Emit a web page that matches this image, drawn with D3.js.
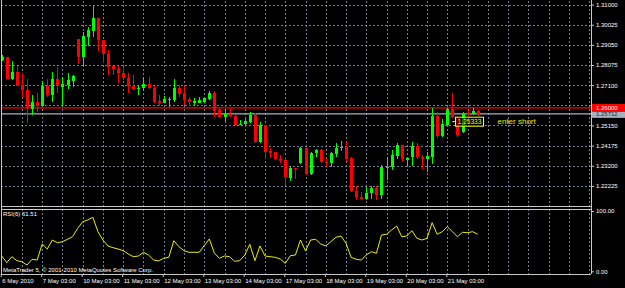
<!DOCTYPE html>
<html><head><meta charset="utf-8">
<script src="https://cdn.jsdelivr.net/npm/d3@7/dist/d3.min.js"></script>
<style>
html,body{margin:0;padding:0;background:#000;}
svg{display:block;}
text{font-family:"Liberation Sans",Arial,sans-serif;}
</style></head>
<body>
<svg id="c" width="625" height="288"></svg>
<script>
const dateLabels = ["6 May 2010","7 May 03:00","10 May 03:00","11 May 03:00","12 May 03:00","13 May 03:00","14 May 03:00","17 May 03:00","18 May 03:00","19 May 03:00","20 May 03:00","21 May 03:00"];
const dateIndex = [0,8,16,24,32,40,48,56,64,72,80,88];
const priceTicks = [1.31000,1.30025,1.29050,1.28075,1.27100,1.26125,1.25150,1.24175,1.23200,1.22225];
const rsiTicks = [100,0];

const open = [1.28319,1.28464,1.27399,1.27738,1.27109,1.26867,1.25947,1.26286,1.26093,1.27061,
1.26625,1.27399,1.27012,1.27109,1.27302,1.29335,1.28464,1.29432,1.29722,1.30351,
1.29287,1.28609,1.28028,1.27883,1.27690,1.27448,1.27061,1.26930,1.26964,1.27157,
1.26964,1.26335,1.26238,1.26383,1.26383,1.26964,1.26722,1.26431,1.26252,1.26252,
1.26286,1.26431,1.26722,1.25899,1.25560,1.25657,1.25609,1.25207,1.25221,1.25318,
1.25657,1.24350,1.25173,1.23915,1.23866,1.23527,1.23479,1.22607,1.23106,1.23334,
1.24060,1.22801,1.23818,1.23963,1.23382,1.23334,1.23769,1.24060,1.24108,1.23576,
1.21979,1.21688,1.21591,1.21882,1.22124,1.21785,1.23092,1.23140,1.23672,1.24205,
1.23479,1.23624,1.24157,1.23624,1.23527,1.23624,1.25609,1.24641,1.25173,1.25947,
1.25560,1.24834,1.25754,1.25691,1.25851];
const high = [1.28561,1.28480,1.28270,1.28028,1.27690,1.27399,1.26625,1.26722,1.27302,1.27399,
1.27738,1.27980,1.27496,1.27690,1.27593,1.29335,1.29674,1.29916,1.30932,1.30351,
1.29287,1.28803,1.28028,1.28028,1.27980,1.27690,1.27593,1.27109,1.27496,1.27496,
1.27061,1.26625,1.26577,1.26528,1.27399,1.27109,1.27061,1.26528,1.26480,1.26528,
1.26543,1.26819,1.26819,1.26044,1.25899,1.25996,1.25657,1.25415,1.25463,1.25802,
1.25754,1.25318,1.25173,1.24060,1.23866,1.23721,1.23624,1.23140,1.23106,1.24108,
1.24108,1.23866,1.24011,1.24011,1.23576,1.23866,1.24302,1.24398,1.24350,1.23624,
1.22221,1.21930,1.22172,1.22221,1.22221,1.23237,1.23624,1.23963,1.24302,1.24205,
1.23624,1.24350,1.24302,1.23721,1.23866,1.25996,1.25802,1.25463,1.25996,1.26722,
1.25560,1.25802,1.25899,1.25996,1.25899];
const low = [1.28270,1.27380,1.27351,1.27061,1.26480,1.25270,1.25657,1.25802,1.26093,1.26528,
1.26286,1.26722,1.26093,1.26915,1.27012,1.28125,1.28028,1.28996,1.29432,1.28754,
1.28174,1.27593,1.27593,1.27206,1.27351,1.26722,1.26867,1.26625,1.26819,1.26915,
1.26238,1.26093,1.26238,1.26044,1.26286,1.26528,1.26141,1.26093,1.26141,1.26238,
1.26252,1.26383,1.25560,1.25511,1.25366,1.25560,1.25173,1.25173,1.25173,1.25270,
1.24302,1.24302,1.23527,1.23576,1.23479,1.23334,1.22269,1.22462,1.22559,1.23285,
1.22753,1.22753,1.23624,1.23334,1.23140,1.23140,1.23624,1.23915,1.23430,1.21930,
1.21543,1.21543,1.21543,1.21591,1.21543,1.21591,1.22511,1.22995,1.23527,1.23382,
1.23188,1.23188,1.23527,1.23043,1.22898,1.23285,1.24544,1.24592,1.25173,1.25511,
1.24592,1.24786,1.25609,1.25657,1.25632];
const close = [1.28464,1.27399,1.27738,1.27061,1.26867,1.25996,1.26286,1.26093,1.27061,1.26625,
1.27399,1.27061,1.27157,1.27351,1.27545,1.28464,1.29480,1.29771,1.30351,1.29287,
1.28609,1.27980,1.27883,1.27690,1.27448,1.27061,1.26915,1.26964,1.27157,1.26964,
1.26286,1.26238,1.26431,1.26431,1.26964,1.26673,1.26383,1.26286,1.26349,1.26383,
1.26480,1.26722,1.25851,1.25560,1.25705,1.25609,1.25173,1.25236,1.25366,1.25657,
1.24350,1.25173,1.23866,1.23818,1.23527,1.23445,1.22656,1.23092,1.23043,1.24060,
1.22801,1.23818,1.23963,1.23382,1.23334,1.23818,1.24060,1.24108,1.23527,1.21979,
1.21688,1.21591,1.21882,1.22124,1.21785,1.23140,1.23140,1.23721,1.24205,1.23527,
1.23576,1.24157,1.23624,1.23527,1.23672,1.25609,1.24641,1.25221,1.25947,1.25560,
1.24689,1.25705,1.25657,1.25865,1.25657];
const rsi = [25.4,14.3,24.2,17.6,15.9,10.4,19.9,18.7,45.3,37.0,
51.9,47.4,49.1,53.1,57.4,71.3,82.3,85.1,89.6,65.7,
51.9,42.0,39.1,37.0,34.2,28.7,24.2,25.4,31.5,27.0,
18.7,17.1,21.6,23.2,50.7,40.8,34.2,31.5,31.5,31.5,
42.5,53.6,29.9,21.6,25.4,24.2,16.6,17.6,27.0,44.8,
17.6,42.0,25.4,24.2,23.2,20.4,13.3,25.9,27.0,51.9,
33.7,51.9,53.1,45.3,42.0,49.1,56.4,58.5,46.4,23.2,
19.9,18.7,27.0,32.5,29.9,60.2,61.4,68.5,75.1,57.4,
58.5,67.3,54.7,51.9,54.7,80.6,61.4,65.7,74.0,65.7,
57.4,64.7,64.0,65.7,61.51];

const levelRed = 1.26000;
const levelGray = 1.25712;
const entryPrice = 1.25333;
const entryIndex = 89;
const rsiLabel = "RSI(6) 61.51";
const copyright = "MetaTrader 5, \u00a9 2001-2010 MetaQuotes Software Corp.";
const note = "enter short";

const svg = d3.select("#c");
const L = 1, R = 591, mainTop = 0, mainBot = 205.5, rsiTop = 208.5, rsiBot = 274;
const gridColor = "#6f8194";
const frameColor = "#c8c8c8";

svg.append("rect").attr("width",625).attr("height",288).attr("fill","#000");

const x = d3.scaleLinear().domain([0,116]).range([1.7, 589.1]);
const y = d3.scaleLinear().domain([1.22225, 1.31]).range([185.9, 4.6]);
const yr = d3.scaleLinear().domain([0,100]).range([271.3, 211]);

// vertical grid
const vIdx = d3.range(4, 117, 4);
const grid = svg.append("g").attr("stroke", gridColor).attr("stroke-dasharray","2,2").attr("stroke-width",1).attr("shape-rendering","crispEdges");
grid.selectAll("line.vm").data(vIdx).join("line").attr("class","vm")
  .attr("x1",d=>Math.round(x(d))+0.5).attr("x2",d=>Math.round(x(d))+0.5).attr("y1",mainTop+1).attr("y2",mainBot);
grid.selectAll("line.vr").data(vIdx).join("line").attr("class","vr")
  .attr("x1",d=>Math.round(x(d))+0.5).attr("x2",d=>Math.round(x(d))+0.5).attr("y1",rsiTop).attr("y2",rsiBot);
grid.selectAll("line.h").data(priceTicks).join("line").attr("class","h")
  .attr("x1",L).attr("x2",R).attr("y1",d=>Math.round(y(d))+0.5).attr("y2",d=>Math.round(y(d))+0.5);

// horizontal levels
svg.append("line").attr("x1",L).attr("x2",R).attr("y1",y(levelGray)).attr("y2",y(levelGray))
  .attr("stroke","#a7b1bf").attr("stroke-width",1.4);
svg.append("line").attr("x1",L).attr("x2",R).attr("y1",y(levelRed)).attr("y2",y(levelRed))
  .attr("stroke","#ff0000").attr("stroke-width",1.4);

// candles
const data = open.map((o,i)=>({i, o, h:high[i], l:low[i], c:close[i]}));
const cg = svg.append("g").attr("shape-rendering","crispEdges");
const col = d => d.c >= d.o ? "#00ff00" : "#ff0000";
cg.selectAll("line.w").data(data).join("line").attr("class","w")
  .attr("x1",d=>Math.round(x(d.i))+0.5).attr("x2",d=>Math.round(x(d.i))+0.5)
  .attr("y1",d=>y(d.h)).attr("y2",d=>y(d.l)).attr("stroke",col).attr("stroke-width",1);
cg.selectAll("rect.b").data(data).join("rect").attr("class","b")
  .attr("x",d=>Math.round(x(d.i))-1).attr("width",3)
  .attr("y",d=>y(Math.max(d.o,d.c)))
  .attr("height",d=>Math.max(1, Math.abs(y(d.o)-y(d.c))))
  .attr("fill",col);

// frame
const fr = svg.append("g").attr("stroke",frameColor).attr("stroke-width",1).attr("shape-rendering","crispEdges").attr("fill","none");
fr.append("line").attr("x1",L+0.5).attr("x2",L+0.5).attr("y1",0).attr("y2",rsiBot);
fr.append("line").attr("x1",R+0.5).attr("x2",R+0.5).attr("y1",0).attr("y2",rsiBot);
fr.append("line").attr("x1",L).attr("x2",R).attr("y1",mainBot+0.5).attr("y2",mainBot+0.5);
fr.append("line").attr("x1",L).attr("x2",R).attr("y1",rsiTop+0.5).attr("y2",rsiTop+0.5);
fr.append("line").attr("x1",L).attr("x2",R).attr("y1",rsiBot+0.5).attr("y2",rsiBot+0.5);

// price axis
const pAxis = svg.append("g").attr("transform",`translate(${R},0)`)
  .call(d3.axisRight(y).tickValues(priceTicks).tickFormat(d3.format(".5f")).tickSize(3).tickPadding(2));
pAxis.select(".domain").remove();
pAxis.selectAll("line").attr("stroke",frameColor);
pAxis.selectAll("text").attr("fill","#fff").attr("font-size",6).attr("font-family","Liberation Sans, Arial");

// rsi axis
const rAxis = svg.append("g").attr("transform",`translate(${R},0)`)
  .call(d3.axisRight(yr).tickValues(rsiTicks).tickFormat(d3.format(".2f")).tickSize(3).tickPadding(2));
rAxis.select(".domain").remove();
rAxis.selectAll("line").attr("stroke",frameColor);
rAxis.selectAll("text").attr("fill","#fff").attr("font-size",6).attr("font-family","Liberation Sans, Arial");

// level labels
function levelLabel(price, fill, txt){
  const g = svg.append("g");
  g.append("rect").attr("x",R+1).attr("y",y(price)-4).attr("width",33).attr("height",8).attr("fill",fill);
  g.append("text").attr("x",R+5).attr("y",y(price)).attr("dy","0.34em").attr("font-size",6).attr("fill",txt)
    .text(d3.format(".5f")(price));
}
levelLabel(levelGray, "#a7b1bf", "#1a2a44");
levelLabel(levelRed, "#ff0000", "#ffffff");

// date axis
const dAxis = svg.append("g").attr("transform",`translate(-1,${rsiBot})`)
  .call(d3.axisBottom(x).tickValues(dateIndex).tickFormat((d,k)=>dateLabels[k]).tickSize(3).tickPadding(1.5));
dAxis.select(".domain").remove();
dAxis.selectAll("line").attr("stroke",frameColor);
dAxis.selectAll("text").attr("fill","#fff").attr("font-size",6).attr("text-anchor","start").attr("dx",1)
  .attr("font-family","Liberation Sans, Arial");

// RSI line
svg.append("path").datum(rsi).attr("fill","none").attr("stroke","#eeee00").attr("stroke-width",1)
  .attr("d", d3.line().x((d,i)=>x(i)).y(d=>yr(d)));

svg.append("text").attr("x",3).attr("y",216).attr("font-size",6).attr("fill","#fff").text(rsiLabel);
svg.append("text").attr("x",3).attr("y",272).attr("font-size",6).attr("fill","#fff").text(copyright);

// entry label
const ey = y(entryPrice);
svg.append("line").attr("x1",x(entryIndex)).attr("x2",455).attr("y1",ey).attr("y2",ey).attr("stroke","#ffff00").attr("stroke-width",1);
svg.append("rect").attr("x",455.5).attr("y",ey-4.5).attr("width",28).attr("height",9)
  .attr("fill","#000").attr("fill-opacity",0.55).attr("stroke","#ffff00").attr("stroke-width",1);
svg.append("text").attr("x",469.5).attr("y",ey).attr("dy","0.35em").attr("text-anchor","middle")
  .attr("font-size",6.5).attr("fill","#ffff00").text(d3.format(".5f")(entryPrice));
svg.append("text").attr("x",497.5).attr("y",ey).attr("dy","0.35em").attr("font-size",8).attr("fill","#e8e800").text(note);
</script>
</body></html>
